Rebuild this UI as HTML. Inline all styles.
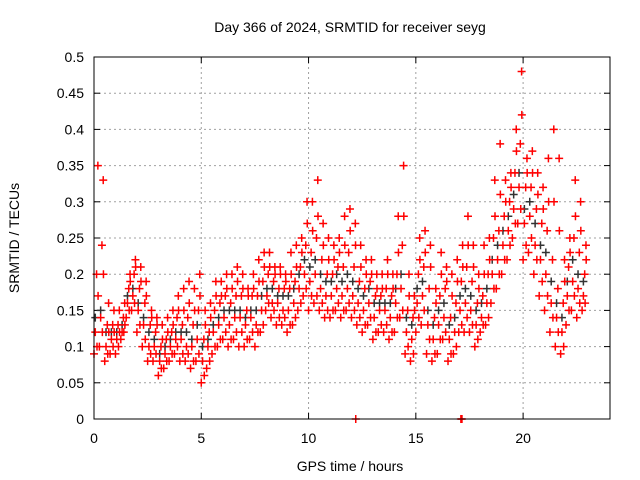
<!DOCTYPE html>
<html><head><meta charset="utf-8"><style>
body{margin:0;background:#fff;}
svg{display:block;font-family:"Liberation Sans",sans-serif;}
</style></head><body>
<svg id="chart" width="640" height="480">
<text x="350" y="32" text-anchor="middle" font-size="14">Day 366 of 2024, SRMTID for receiver seyg</text>
<text x="350" y="471" text-anchor="middle" font-size="14">GPS time / hours</text>
<text x="0" y="0" transform="translate(19,238) rotate(-90)" text-anchor="middle" font-size="14">SRMTID / TECUs</text>
<g id="grid"></g>
<g id="ticks"></g>
<g id="marks"></g>
<rect x="94" y="57" width="516" height="362" fill="none" stroke="#000" stroke-width="1"/>
</svg>
<script>
const xTicks=[0,5,10,15,20];
const yTicks=[0,0.05,0.1,0.15,0.2,0.25,0.3,0.35,0.4,0.45,0.5];
const yTickLabels=["0","0.05","0.1","0.15","0.2","0.25","0.3","0.35","0.4","0.45","0.5"];
const hours=[0,0.25,0.5,0.75,1,1.25,1.5,1.75,2,2.25,2.5,2.75,3,3.25,3.5,3.75,4,4.25,4.5,4.75,5,5.25,5.5,5.75,6,6.25,6.5,6.75,7,7.25,7.5,7.75,8,8.25,8.5,8.75,9,9.25,9.5,9.75,10,10.25,10.5,10.75,11,11.25,11.5,11.75,12,12.25,12.5,12.75,13,13.25,13.5,13.75,14,14.25,14.5,14.75,15,15.25,15.5,15.75,16,16.25,16.5,16.75,17,17.25,17.5,17.75,18,18.25,18.5,18.75,19,19.25,19.5,19.75,20,20.25,20.5,20.75,21,21.25,21.5,21.75,22,22.25,22.5,22.75];
const redLow=[.09,.1,.08,.09,.09,.11,.14,.15,.12,.1,.08,.08,.06,.07,.08,.09,.08,.08,.07,.08,.05,.07,.09,.1,.11,.1,.11,.1,.1,.11,.1,.12,.15,.14,.13,.13,.12,.13,.15,.17,.15,.16,.15,.14,.14,.15,.14,.15,.14,.13,.12,.13,.11,.12,.12,.11,.12,.14,.09,.08,.12,.13,.09,.08,.09,.11,.08,.09,.12,.12,.12,.1,.12,.13,.16,.18,.2,.22,.25,.27,.22,.23,.2,.17,.15,.12,.1,.09,.13,.15,.14,.15];
const redMidLow=[.12,.14,.1,.11,.11,.12,.16,.17,.15,.13,.1,.1,.08,.09,.1,.11,.11,.1,.1,.11,.08,.1,.12,.13,.14,.13,.14,.14,.13,.14,.13,.15,.17,.16,.16,.15,.15,.16,.18,.2,.19,.2,.18,.17,.17,.18,.17,.18,.17,.16,.15,.16,.14,.15,.15,.14,.16,.18,.12,.11,.16,.17,.13,.11,.13,.14,.11,.12,.15,.16,.15,.13,.14,.16,.2,.22,.24,.26,.29,.32,.27,.28,.24,.22,.2,.16,.14,.12,.17,.19,.18,.17];
const redMidHigh=[.2,.24,.13,.13,.13,.14,.18,.2,.18,.16,.13,.12,.1,.11,.12,.14,.13,.14,.13,.15,.11,.12,.15,.16,.17,.16,.17,.17,.15,.17,.17,.19,.2,.19,.18,.18,.18,.19,.21,.24,.23,.25,.22,.2,.2,.21,.21,.23,.21,.19,.18,.19,.17,.17,.18,.17,.2,.24,.15,.14,.2,.21,.18,.14,.17,.18,.14,.16,.19,.21,.19,.16,.17,.2,.25,.26,.28,.3,.34,.38,.32,.32,.29,.27,.26,.22,.18,.16,.21,.25,.23,.2];
const redHigh=[.35,.33,.16,.15,.15,.16,.2,.22,.21,.19,.15,.14,.13,.14,.15,.17,.18,.19,.18,.2,.15,.16,.19,.19,.2,.2,.21,.2,.18,.2,.22,.23,.23,.21,.21,.2,.23,.24,.25,.3,.3,.33,.27,.25,.24,.25,.28,.29,.27,.24,.22,.22,.2,.2,.22,.2,.28,.35,.2,.17,.25,.26,.24,.18,.23,.21,.2,.22,.24,.28,.24,.2,.24,.25,.33,.38,.33,.34,.4,.48,.36,.37,.34,.32,.36,.4,.36,.22,.25,.33,.3,.24];
const redExtraA=[.1,.12,.09,.1,.1,.12,.15,.16,.13,.11,.09,.09,.07,.08,.09,.1,.09,.09,.08,.09,.06,.08,.1,.11,.12,.11,.12,.12,.11,.12,.12,.13,.16,.15,.14,.14,.13,.14,.16,.18,.17,.17,.16,.15,.15,.16,.15,.16,.15,.14,.13,.14,.12,.13,.13,.12,.14,.15,.1,.09,.14,.15,.11,.09,.11,.12,.09,.1,.13,.14,.13,.11,.13,.14,.18,.2,.22,.24,.27,.29,.24,.25,.22,.19,.17,.14,.12,.1,.15,.17,.16,.16];
const redExtraB=[.17,.2,.12,.12,.12,.13,.19,.21,.19,.17,.14,.13,.11,.12,.13,.15,.15,.16,.15,.17,.13,.14,.17,.17,.18,.18,.19,.18,.17,.18,.19,.21,.21,.2,.2,.19,.2,.21,.23,.27,.26,.28,.24,.22,.22,.23,.24,.26,.24,.21,.2,.2,.18,.18,.2,.18,.23,.28,.17,.15,.22,.23,.21,.16,.2,.19,.17,.19,.21,.24,.21,.18,.2,.22,.28,.31,.3,.32,.37,.42,.34,.34,.31,.29,.3,.3,.26,.19,.23,.28,.26,.22];
const blackVals=[.14,.15,.12,.12,.12,.13,.17,.18,.16,.14,.12,.11,.09,.1,.11,.12,.12,.12,.11,.13,.1,.11,.13,.14,.15,.15,.15,.15,.14,.15,.15,.17,.18,.18,.17,.17,.17,.18,.2,.22,.21,.22,.2,.19,.19,.2,.19,.2,.19,.18,.17,.18,.16,.16,.16,.16,.18,.2,.14,.13,.18,.19,.15,.13,.15,.16,.13,.14,.17,.18,.17,.15,.16,.18,.22,.24,.26,.28,.31,.34,.29,.3,.27,.24,.23,.19,.16,.14,.19,.22,.2,.19];
const zeroHours=[12.2,17.1,17.15];
const zeroVals=[0,0,0];

const X0=94,X1=610,Y0=419,Y1=57,XMAX=24.05,YMAX=0.5;
function xs(v){return X0+(X1-X0)*v/XMAX;}
function ys(v){return Y0-(Y0-Y1)*v/YMAX;}
const NS="http://www.w3.org/2000/svg";
const grid=document.getElementById('grid'),ticks=document.getElementById('ticks'),marks=document.getElementById('marks');
function mk(tag,attrs,parent){const e=document.createElementNS(NS,tag);for(const k in attrs)e.setAttribute(k,attrs[k]);parent.appendChild(e);return e;}
yTicks.forEach((v,i)=>{
 const y=ys(v);
 if(i>0&&i<yTicks.length-1){const g=mk('line',{x1:X0,x2:X1,y1:y,y2:y,stroke:'#a0a0a0','stroke-dasharray':'2,3'},grid);
 
 }
 const t=mk('line',{x1:X0,x2:X0+6,y1:y,y2:y,stroke:'#000'},ticks);
 
 
 const t2=mk('line',{x1:X1-6,x2:X1,y1:y,y2:y,stroke:'#000'},ticks);
 
 
 const l=mk('text',{x:84,y:y+5,'text-anchor':'end','font-size':'14'},ticks);l.textContent=yTickLabels[i];
 
 
});
xTicks.forEach((v,i)=>{
 const x=xs(v);
 if(i>0){const g=mk('line',{x1:x,x2:x,y1:Y0,y2:Y1,stroke:'#a0a0a0','stroke-dasharray':'2,3'},grid);
 
 }
 const t=mk('line',{x1:x,x2:x,y1:Y0,y2:Y0-6,stroke:'#000'},ticks);
 
 
 const t2=mk('line',{x1:x,x2:x,y1:Y1,y2:Y1+6,stroke:'#000'},ticks);
 
 
 const l=mk('text',{x:x,y:443,'text-anchor':'middle','font-size':'14'},ticks);l.textContent=String(v);
 
 
});
function cross(h,v,color,name){
 const x=xs(h),y=ys(v);
 const p=mk('path',{d:`M${x-4},${y}H${x+4}M${x},${y-4}V${y+4}`,stroke:color,'stroke-width':'1.5',fill:'none'},marks);
 
 
}
hours.forEach((h,i)=>cross(h+0.06,blackVals[i],'#333','black-point'));
[redLow,redMidLow,redMidHigh,redHigh].forEach((arr,k)=>{
 hours.forEach((h,i)=>cross(h+k*0.06,arr[i],'#f00','red-point'));
});
[redExtraA,redExtraB].forEach((arr,k)=>{
 hours.forEach((h,i)=>cross(h+0.14+k*0.05,arr[i],'#f00','red-point'));
});
zeroHours.forEach((h,i)=>cross(h,zeroVals[i],'#f00','red-zero-point'));
</script>
</body></html>
